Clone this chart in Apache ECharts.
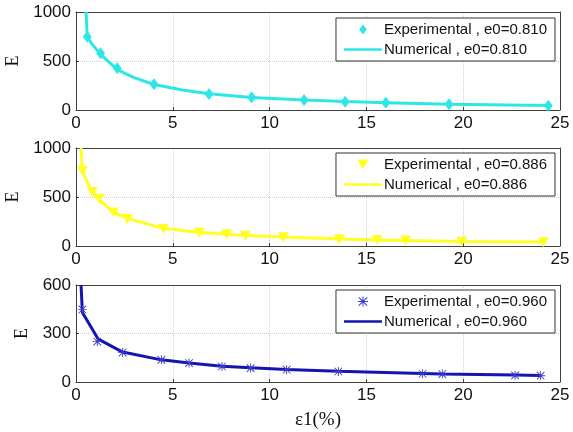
<!DOCTYPE html>
<html>
<head>
<meta charset="utf-8">
<script src="https://cdn.jsdelivr.net/npm/echarts@6/dist/echarts.min.js"></script>
<style>html,body{margin:0;padding:0;background:#fff}#c{width:573px;height:432px}</style>
</head>
<body>
<div id="c"></div>
<script>
// ---- data ----
const xTicks = [0, 5, 10, 15, 20, 25];
const yTicksTop = [0, 500, 1000];
const yTicksBottom = [0, 300, 600];

const exp810X = [0.58, 1.27, 2.13, 4.03, 6.87, 9.07, 11.78, 13.9, 16.0, 19.27, 24.4];
const exp810Y = [748, 578, 425, 262, 163, 129, 102, 85, 75, 58, 44];
const num810X = [0.52, 0.58, 0.8, 1.27, 2.13, 3.0, 4.03, 5.5, 6.87, 9.07, 11.78, 13.9, 16.0, 19.27, 24.4];
const num810Y = [1000, 750, 680, 568, 412, 330, 260, 205, 165, 128, 102, 86, 75, 59, 45];

const exp886X = [0.33, 0.84, 1.19, 1.93, 2.65, 4.51, 6.37, 7.78, 8.76, 10.71, 13.6, 15.56, 17.03, 19.92, 24.14];
const exp886Y = [768, 550, 481, 341, 276, 174, 136, 120, 105, 89, 69, 61, 55, 44, 38];
const num886X = [0.26, 0.33, 0.84, 1.19, 1.93, 2.65, 4.51, 6.37, 7.78, 8.76, 10.71, 13.6, 15.56, 17.03, 19.92, 24.14];
const num886Y = [1000, 760, 545, 472, 345, 282, 180, 138, 121, 108, 92, 71, 62, 56, 46, 40];

const exp960X = [0.33, 1.1, 2.41, 4.41, 5.84, 7.54, 9.02, 10.88, 13.55, 17.9, 18.92, 22.68, 24.0];
const exp960Y = [449, 250, 182, 137, 117, 96, 86, 76, 65, 51, 49, 41, 39];
const num960X = [0.26, 0.33, 1.15, 2.41, 4.41, 5.84, 7.54, 9.02, 10.88, 13.55, 17.9, 18.92, 22.68, 24.0];
const num960Y = [600, 430, 265, 185, 137, 118, 98, 88, 78, 66, 53, 50, 43, 40];

const names = {
  e810: 'Experimental , e0=0.810', n810: 'Numerical , e0=0.810',
  e886: 'Experimental , e0=0.886', n886: 'Numerical , e0=0.886',
  e960: 'Experimental , e0=0.960', n960: 'Numerical , e0=0.960'
};

const zip = (xs, ys) => xs.map((x, i) => [x, ys[i]]);

const colCyan = '#2fe6e6';
const colYellow = '#ffff22';
const colBlue = '#1414b0';
const colBlueMk = '#3a3ad0';
const diamondPath = 'path://M45,0L90,60L45,120L0,60Z';
const triDownPath = 'path://M0,0L110,0L55,100Z';
const asteriskPath = 'path://M45,0L55,0L55,100L45,100Z M0,45L100,45L100,55L0,55Z M11.5,4.4L95.6,88.5L88.5,95.6L4.4,11.5Z M88.5,4.4L95.6,11.5L11.5,95.6L4.4,88.5Z';
const lineIconPath = 'path://M0,0L380,0L380,26L0,26Z';

const axisCol = '#404040';
const sans = 'Liberation Sans, Arial, sans-serif';
const serif = 'Liberation Serif, Times New Roman, serif';

const grids = [
  { left: 76, right: 13, top: 12, height: 98, containLabel: false, outerBoundsMode: 'none' },
  { left: 76, right: 13, top: 148, height: 98, containLabel: false, outerBoundsMode: 'none' },
  { left: 76, right: 13, top: 285, height: 97, containLabel: false, outerBoundsMode: 'none' }
];

const plainNum = v => String(v);

function xAxis(i) {
  return {
    type: 'value', gridIndex: i, min: xTicks[0], max: xTicks[xTicks.length - 1], interval: 5,
    axisLine: { show: true, onZero: false, lineStyle: { color: axisCol, width: 1 } },
    axisTick: { show: true, inside: true, length: 3, lineStyle: { color: axisCol } },
    axisLabel: { color: '#111', fontSize: 17, fontFamily: sans, margin: 5, formatter: plainNum },
    splitLine: { show: true, lineStyle: { color: '#d0d0d0', type: 'dotted' } },
    name: i === 2 ? 'ε1(%)' : '', nameLocation: 'middle', nameGap: 29,
    nameTextStyle: { fontFamily: serif, fontSize: 19, color: '#111' }
  };
}
function xAxisTop(i) {
  return {
    type: 'value', gridIndex: i, position: 'top', min: 0, max: 25, interval: 5,
    axisLine: { show: true, onZero: false, lineStyle: { color: axisCol, width: 1 } },
    axisTick: { show: false }, axisLabel: { show: false }, splitLine: { show: false }
  };
}
function yAxis(i, ticks, gap) {
  return {
    type: 'value', gridIndex: i, min: ticks[0], max: ticks[ticks.length - 1], interval: ticks[1] - ticks[0],
    axisLine: { show: true, onZero: false, lineStyle: { color: axisCol, width: 1 } },
    axisTick: { show: true, inside: true, length: 3, lineStyle: { color: axisCol } },
    axisLabel: { color: '#111', fontSize: 17, fontFamily: sans, margin: 5, formatter: plainNum },
    splitLine: { show: true, lineStyle: { color: '#d0d0d0', type: 'dotted' } },
    name: 'E', nameLocation: 'middle', nameGap: gap,
    nameTextStyle: { fontFamily: serif, fontSize: 18, color: '#111' }
  };
}
function yAxisRight(i, ticks) {
  return {
    type: 'value', gridIndex: i, position: 'right', min: ticks[0], max: ticks[ticks.length - 1],
    axisLine: { show: true, onZero: false, lineStyle: { color: axisCol, width: 1 } },
    axisTick: { show: false }, axisLabel: { show: false }, splitLine: { show: false }
  };
}
function legend(top, expName, expIcon, numName) {
  return {
    data: [{ name: expName, icon: expIcon }, { name: numName, icon: lineIconPath }],
    orient: 'vertical', right: 18, top: top,
    backgroundColor: '#fff', borderColor: '#333', borderWidth: 1,
    padding: [3, 8, 3, 8], itemGap: 3, itemWidth: 38, itemHeight: 10, symbolKeepAspect: true,
    textStyle: { fontFamily: sans, fontSize: 15, color: '#111', lineHeight: 17, padding: [0, 0, 0, -3] }
  };
}

const option = {
  backgroundColor: '#fff',
  animation: false,
  grid: grids,
  xAxis: [xAxis(0), xAxis(1), xAxis(2), xAxisTop(0), xAxisTop(1), xAxisTop(2)],
  yAxis: [yAxis(0, yTicksTop, 52), yAxis(1, yTicksTop, 52), yAxis(2, yTicksBottom, 40),
          yAxisRight(0, yTicksTop), yAxisRight(1, yTicksTop), yAxisRight(2, yTicksBottom)],
  legend: [legend(18, names.e810, diamondPath, names.n810),
           legend(153, names.e886, triDownPath, names.n886),
           legend(290, names.e960, asteriskPath, names.n960)],
  series: [
    { name: names.n810, type: 'line', xAxisIndex: 0, yAxisIndex: 0, data: zip(num810X, num810Y), showSymbol: false, symbol: 'none',
      lineStyle: { color: colCyan, width: 3 }, itemStyle: { color: colCyan }, z: 2 },
    { name: names.e810, type: 'scatter', xAxisIndex: 0, yAxisIndex: 0, data: zip(exp810X, exp810Y), symbol: diamondPath, symbolSize: [9, 12],
      itemStyle: { color: colCyan, opacity: 1 }, z: 3 },
    { name: names.n886, type: 'line', xAxisIndex: 1, yAxisIndex: 1, data: zip(num886X, num886Y), showSymbol: false, symbol: 'none',
      lineStyle: { color: colYellow, width: 3 }, itemStyle: { color: colYellow }, z: 2 },
    { name: names.e886, type: 'scatter', xAxisIndex: 1, yAxisIndex: 1, data: zip(exp886X, exp886Y), symbol: triDownPath, symbolSize: [11, 10],
      itemStyle: { color: colYellow, opacity: 1 }, z: 3 },
    { name: names.n960, type: 'line', xAxisIndex: 2, yAxisIndex: 2, data: zip(num960X, num960Y), showSymbol: false, symbol: 'none',
      lineStyle: { color: colBlue, width: 3 }, itemStyle: { color: colBlue }, z: 2 },
    { name: names.e960, type: 'scatter', xAxisIndex: 2, yAxisIndex: 2, data: zip(exp960X, exp960Y), symbol: asteriskPath, symbolSize: 9,
      itemStyle: { color: colBlueMk, opacity: 1 }, z: 3 }
  ]
};

const chart = echarts.init(document.getElementById('c'), null, { renderer: 'canvas' });
chart.setOption(option);
</script>
</body>
</html>
